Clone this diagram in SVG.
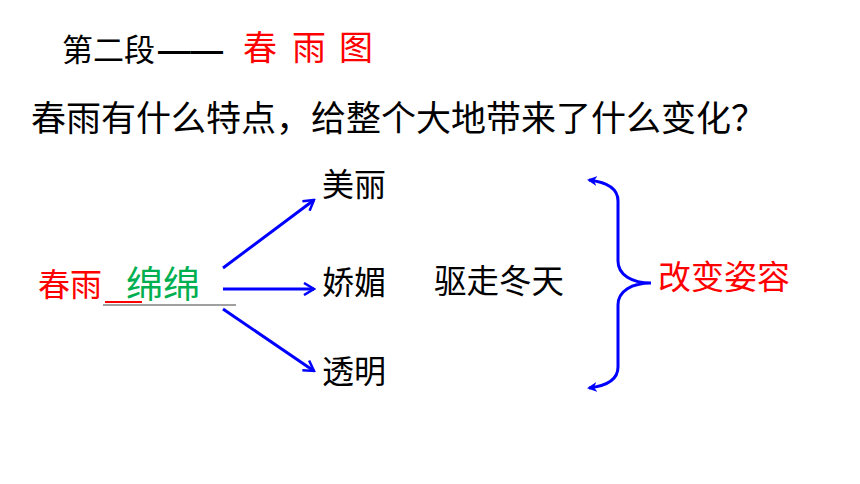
<svg xmlns="http://www.w3.org/2000/svg" width="860" height="484" viewBox="0 0 860 484">
<defs>
<style>
text{font-family:"Noto Sans CJK SC","Liberation Sans",sans-serif;}
.blk{fill:#000;}
.red{fill:#FF0000;}
.grn{fill:#00B050;}
.conn{stroke:#0000FF;stroke-width:3;fill:none;}
</style>
<marker id="vArrow" viewBox="0 0 14 14" refX="12" refY="7" markerWidth="14" markerHeight="14" markerUnits="userSpaceOnUse" orient="auto">
<path d="M2 1 L12 7 L2 13" fill="none" stroke="#0000FF" stroke-width="2.5"/>
</marker>
<marker id="triArrow" viewBox="0 0 10 10" refX="8" refY="5" markerWidth="10" markerHeight="10" markerUnits="userSpaceOnUse" orient="auto-start-reverse">
<path d="M0 0 L10 5 L0 10 L3 5 Z" fill="#0000FF"/>
</marker>
</defs>
<rect width="860" height="484" fill="#FFFFFF"/>

<g id="title">
<text class="blk" x="62" y="61" font-size="31">第二段<tspan font-family="'Liberation Sans',sans-serif" font-weight="bold" x="158" textLength="65" lengthAdjust="spacingAndGlyphs">——</tspan></text>
<text class="red" font-size="34" x="243 292 339" y="60">春雨图</text>
</g>

<g id="question">
<text class="blk" x="31" y="131" font-size="35">春雨有什么特点，给整个大地带来了什么变化？</text>
</g>

<g id="source">
<text class="red" x="38" y="296" font-size="32">春雨</text>
<line x1="105" y1="302" x2="142" y2="302" stroke="#FF0000" stroke-width="2"/>
<line x1="103" y1="305" x2="236" y2="305" stroke="#808080" stroke-width="1.5"/>
<text class="grn" x="126" y="298" font-size="37">绵绵</text>
</g>

<g id="n-meili"><text class="blk" x="322" y="196" font-size="32">美丽</text></g>
<g id="n-jiaomei"><text class="blk" x="322" y="294" font-size="32">娇媚</text></g>
<g id="n-touming"><text class="blk" x="322" y="383" font-size="32">透明</text></g>
<g id="n-quzou"><text class="blk" x="434" y="293" font-size="32.5">驱走冬天</text></g>
<g id="n-gaibian"><text class="red" x="658" y="289" font-size="33">改变姿容</text></g>

<g id="connectors">
<line class="conn" x1="223" y1="268" x2="314" y2="200" marker-end="url(#vArrow)"/>
<line class="conn" x1="223" y1="289" x2="314" y2="289" marker-end="url(#vArrow)"/>
<line class="conn" x1="223" y1="309" x2="314" y2="371" marker-end="url(#vArrow)"/>
<path class="conn" d="M589 180 C606 182 618 188 618 201 L618 261 C618 275 632 283 651 283 C632 283 618 291 618 305 L618 367 C618 380 606 386 589 388" marker-start="url(#triArrow)" marker-end="url(#triArrow)"/>
</g>
</svg>
